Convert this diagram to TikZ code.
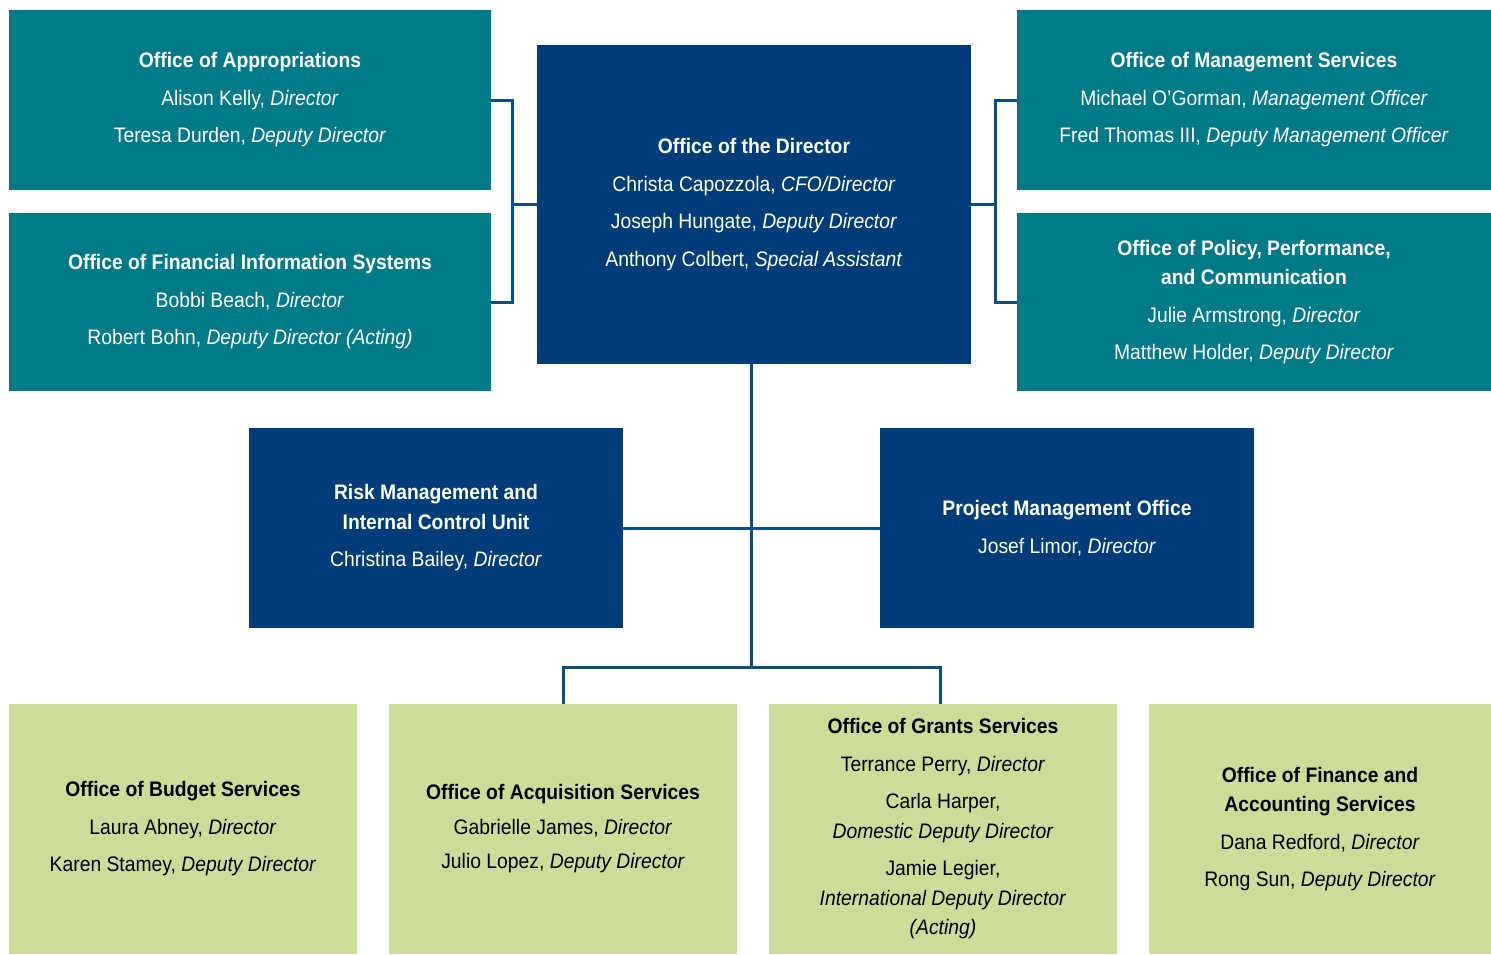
\documentclass[tikz,border=0pt]{standalone}
\usepackage{fontspec}
\setmainfont{Liberation Sans}[FakeStretch=0.92]
\usetikzlibrary{positioning}
\definecolor{teal1}{HTML}{007A87}
\definecolor{navy1}{HTML}{003C78}
\definecolor{green1}{HTML}{CCDC99}
\definecolor{wire}{HTML}{0E4C8C}
\tikzset{%
	office/.style   = {rectangle, inner sep=0pt, align=center,
		font=\fontsize{21}{29.5}\selectfont},
	tealbox/.style  = {office, fill=teal1, text=white}, % upper offices
	navybox/.style  = {office, fill=navy1, text=white}, % director level
	greenbox/.style = {office, fill=green1, text=black}, % lower offices
	wireline/.style = {draw=wire, line width=3pt} % connectors
}
\newcommand{\ttl}[1]{\textbf{#1}}
\newcommand{\rl}[1]{\textit{#1}}

\begin{document}
\begin{tikzpicture}[x=1pt,y=-1pt]
                \useasboundingbox (0,0) rectangle (1491,954);

                \node[tealbox, minimum width=482, minimum height=180] (appr) at (250,100)
                    {\ttl{Office of Appropriations}\\[8pt]
                     Alison Kelly, \rl{Director}\\[8pt]
                     Teresa Durden, \rl{Deputy Director}};
                \node[tealbox, minimum width=482, minimum height=178] (fis) at (250,302)
                    {\ttl{Office of Financial Information Systems}\\[8pt]
                     Bobbi Beach, \rl{Director}\\[8pt]
                     Robert Bohn, \rl{Deputy Director (Acting)}};
                \node[navybox, minimum width=434, minimum height=319] (dir) at (754,204.5)
                    {\ttl{Office of the Director}\\[8pt]
                     Christa Capozzola, \rl{CFO/Director}\\[8pt]
                     Joseph Hungate, \rl{Deputy Director}\\[8pt]
                     Anthony Colbert, \rl{Special Assistant}};
                \node[tealbox, minimum width=474, minimum height=180] (mgmt) at (1254,100)
                    {\ttl{Office of Management Services}\\[8pt]
                     Michael O’Gorman, \rl{Management Officer}\\[8pt]
                     Fred Thomas III, \rl{Deputy Management Officer}};
                \node[tealbox, minimum width=474, minimum height=178] (policy) at (1254,302)
                    {\ttl{Office of Policy, Performance,}\\
                     \ttl{and Communication}\\[8pt]
                     Julie Armstrong, \rl{Director}\\[8pt]
                     Matthew Holder, \rl{Deputy Director}};

                \node[navybox, minimum width=374, minimum height=200] (risk) at (436,528)
                    {\ttl{Risk Management and}\\
                     \ttl{Internal Control Unit}\\[8pt]
                     Christina Bailey, \rl{Director}};
                \node[navybox, minimum width=374, minimum height=200] (pmo) at (1067,528)
                    {\ttl{Project Management Office}\\[8pt]
                     Josef Limor, \rl{Director}};

                \node[greenbox, minimum width=348, minimum height=250] (budget) at (183,829)
                    {\ttl{Office of Budget Services}\\[8pt]
                     Laura Abney, \rl{Director}\\[8pt]
                     Karen Stamey, \rl{Deputy Director}};
                \node[greenbox, minimum width=348, minimum height=250] (acq) at (563,829)
                    {\ttl{Office of Acquisition Services}\\[5pt]
                     Gabrielle James, \rl{Director}\\[5pt]
                     Julio Lopez, \rl{Deputy Director}};
                \node[greenbox, minimum width=348, minimum height=250] (grants) at (943,829)
                    {\ttl{Office of Grants Services}\\[8pt]
                     Terrance Perry, \rl{Director}\\[8pt]
                     Carla Harper,\\
                     \rl{Domestic Deputy Director}\\[8pt]
                     Jamie Legier,\\
                     \rl{International Deputy Director}\\
                     \rl{(Acting)}};
                \node[greenbox, minimum width=342, minimum height=250] (fin) at (1320,829)
                    {\ttl{Office of Finance and}\\
                     \ttl{Accounting Services}\\[8pt]
                     Dana Redford, \rl{Director}\\[8pt]
                     Rong Sun, \rl{Deputy Director}};

                % joints of the brackets
                \coordinate (lj) at (512,204.5);
                \coordinate (rj) at (995,204.5);
                \coordinate (bj) at (751,667);

                \draw[wireline] (appr.east) -| (lj) |- (fis.east);
                \draw[wireline] (lj) -- (dir.west);
                \draw[wireline] (mgmt.west) -| (rj) |- (policy.west);
                \draw[wireline] (rj) -- (dir.east);
                \draw[wireline] (dir.south -| bj) -- (bj);
                \draw[wireline] (risk.east) -- (pmo.west);
                \draw[wireline] (acq.north) |- (bj) -| ([xshift=-3pt]grants.north);
            \end{tikzpicture}
\end{document}
